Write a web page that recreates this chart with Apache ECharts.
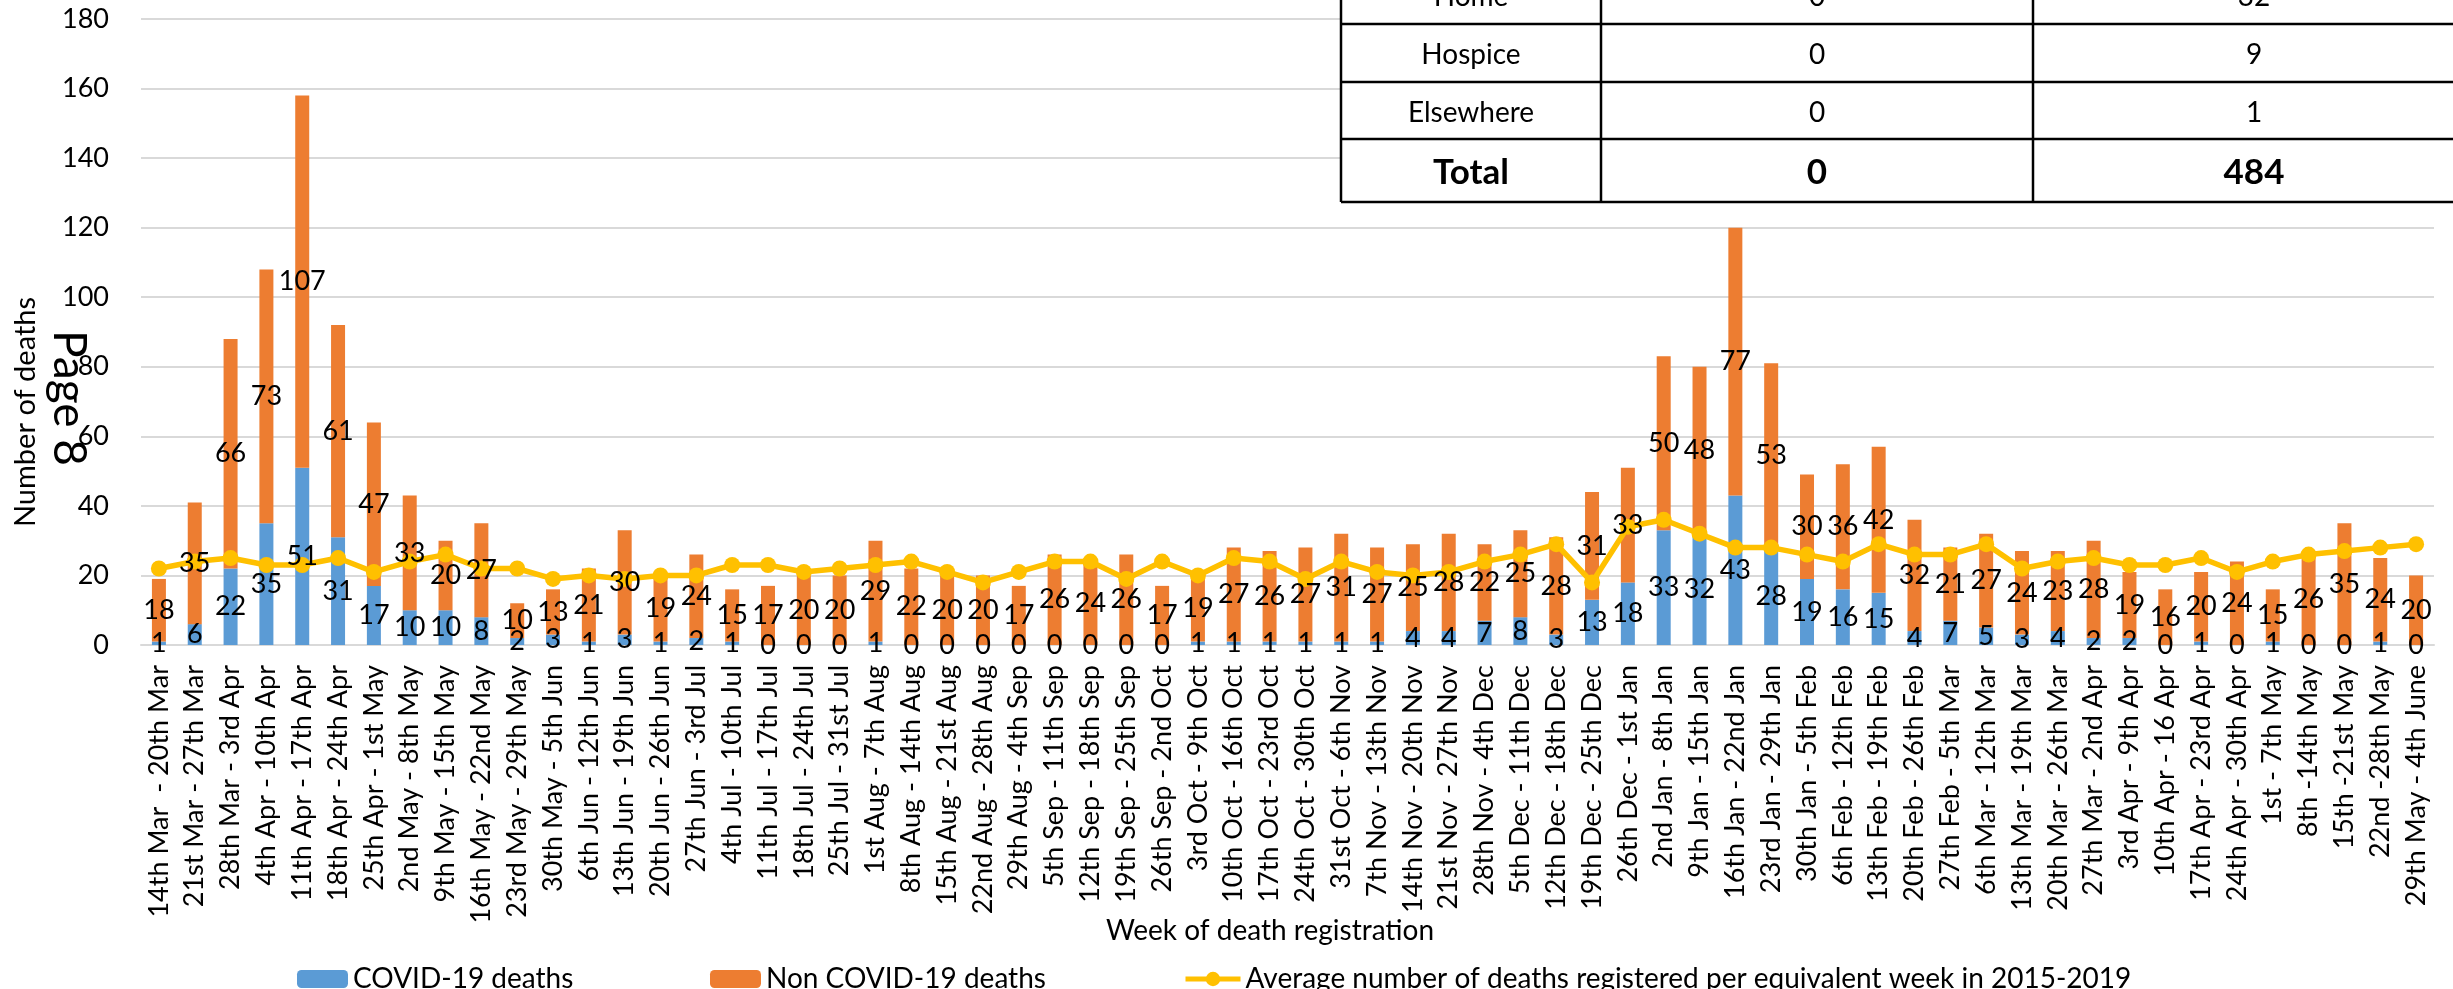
<!DOCTYPE html>
<html>
<head>
<meta charset="utf-8">
<script src="https://cdn.jsdelivr.net/npm/echarts@6/dist/echarts.min.js"></script>
<style>
html,body{margin:0;padding:0;background:#fff;}
#chart{width:2453px;height:989px;}
</style>
</head>
<body>
<div id="chart"></div>
<script>
const categories = [
  '14th Mar  - 20th Mar','21st Mar - 27th Mar','28th Mar - 3rd Apr','4th Apr - 10th Apr','11th Apr - 17th Apr',
  '18th Apr - 24th Apr','25th Apr - 1st May','2nd May - 8th May','9th May - 15th May','16th May - 22nd May',
  '23rd May - 29th May','30th May - 5th Jun','6th Jun - 12th Jun','13th Jun - 19th Jun','20th Jun - 26th Jun',
  '27th Jun - 3rd Jul','4th Jul - 10th Jul','11th Jul - 17th Jul','18th Jul - 24th Jul','25th Jul - 31st Jul',
  '1st Aug - 7th Aug','8th Aug - 14th Aug','15th Aug - 21st Aug','22nd Aug - 28th Aug','29th Aug - 4th Sep',
  '5th Sep - 11th Sep','12th Sep - 18th Sep','19th Sep - 25th Sep','26th Sep - 2nd Oct','3rd Oct - 9th Oct',
  '10th Oct - 16th Oct','17th Oct - 23rd Oct','24th Oct - 30th Oct','31st Oct - 6th Nov','7th Nov - 13th Nov',
  '14th Nov - 20th Nov','21st Nov - 27th Nov','28th Nov - 4th Dec','5th Dec - 11th Dec','12th Dec - 18th Dec',
  '19th Dec - 25th Dec','26th Dec - 1st Jan','2nd Jan - 8th Jan','9th Jan - 15th Jan','16th Jan - 22nd Jan',
  '23rd Jan - 29th Jan','30th Jan - 5th Feb','6th Feb - 12th Feb','13th Feb - 19th Feb','20th Feb - 26th Feb',
  '27th Feb - 5th Mar','6th Mar - 12th Mar','13th Mar - 19th Mar','20th Mar - 26th Mar','27th Mar - 2nd Apr',
  '3rd Apr - 9th Apr','10th Apr - 16 Apr','17th Apr - 23rd Apr','24th Apr - 30th Apr','1st - 7th May',
  '8th -14th May','15th -21st May','22nd -28th May','29th May - 4th June'
];
const covidDeaths = [
  1,6,22,35,51,31,17,10,10,8,
  2,3,1,3,1,2,1,0,0,0,
  1,0,0,0,0,0,0,0,0,1,
  1,1,1,1,1,4,4,7,8,3,
  13,18,33,32,43,28,19,16,15,4,
  7,5,3,4,2,2,0,1,0,1,
  0,0,1,0
];
const nonCovidDeaths = [
  18,35,66,73,107,61,47,33,20,27,
  10,13,21,30,19,24,15,17,20,20,
  29,22,20,20,17,26,24,26,17,19,
  27,26,27,31,27,25,28,22,25,28,
  31,33,50,48,77,53,30,36,42,32,
  21,27,24,23,28,19,16,20,24,15,
  26,35,24,20
];
const averageDeaths = [
  22,24,25,23,23,25,21,24,26,22,
  22,19,20,19,20,20,23,23,21,22,
  23,24,21,18,21,24,24,19,24,20,
  25,24,19,24,21,20,21,24,26,29,
  18,34,36,32,28,28,26,24,29,26,
  26,29,22,24,25,23,23,25,21,24,
  26,27,28,29
];
const seriesNames = ['COVID-19 deaths','Non COVID-19 deaths','Average number of deaths registered per equivalent week in 2015-2019'];
const tablePlaces = ['Home','Hospice','Elsewhere','Total'];
const tableCovid = [0,0,0,0];
const tableNonCovid = [32,9,1,484];

const FONT = 'Lato';
const chart = echarts.init(document.getElementById('chart'), null, {renderer:'canvas'});

// table graphic (layout only)
const colX = [1341, 1601, 2033, 2475];
const rowY = [-34, 24, 82, 139, 202];
const tableEls = [];
tableEls.push({type:'rect', shape:{x:colX[0], y:rowY[0], width:colX[3]-colX[0], height:rowY[4]-rowY[0]}, style:{fill:'#fff'}, z:100});
rowY.slice(1).forEach(y => tableEls.push({type:'line', shape:{x1:colX[0], y1:y, x2:colX[3], y2:y}, style:{stroke:'#000', lineWidth:2.5}, z:102}));
colX.slice(0,3).forEach(x => tableEls.push({type:'line', shape:{x1:x, y1:rowY[0], x2:x, y2:rowY[4]}, style:{stroke:'#000', lineWidth:2.5}, z:102}));
tablePlaces.forEach((p, i) => {
  const bold = p === 'Total';
  const cy = (rowY[i] + rowY[i+1]) / 2 + 2;
  const fs = bold ? 35 : 28;
  const vals = [p, String(tableCovid[i]), String(tableNonCovid[i])];
  vals.forEach((t, j) => {
    tableEls.push({type:'text', x:(colX[j]+colX[j+1])/2, y:cy, z:103,
      style:{text:t, fill:'#000', font:(bold?'bold ':'') + fs + 'px ' + FONT, textAlign:'center', textVerticalAlign:'middle'}});
  });
});

const labelStyle = {show:true, position:'inside', color:'#000', fontSize:27, fontFamily:FONT, textBorderWidth:0};
const legendText = {color:'#000', fontSize:28, fontFamily:FONT};

chart.setOption({
  animation:false,
  backgroundColor:'#fff',
  grid:{left:141, right:19, top:19, bottom:344, containLabel:false},
  legend:[
    {data:[seriesNames[0]], left:292, top:960, itemWidth:51, itemHeight:18, itemGap:0, textStyle:legendText},
    {data:[seriesNames[1]], left:705, top:960, itemWidth:51, itemHeight:18, itemGap:0, textStyle:legendText},
    {data:[seriesNames[2]], left:1178, top:960, itemWidth:55, itemHeight:18, itemGap:0, textStyle:legendText,
     lineStyle:{width:5}}
  ],
  xAxis:{
    type:'category', data:categories,
    axisLine:{show:true, lineStyle:{color:'#d9d9d9', width:2}},
    axisTick:{show:false},
    axisLabel:{interval:0, rotate:90, margin:20, color:'#000', fontSize:27, fontFamily:FONT},
    splitLine:{show:false}
  },
  yAxis:{
    type:'value', min:0, max:180, interval:20,
    axisLine:{show:false}, axisTick:{show:false},
    axisLabel:{margin:32, color:'#000', fontSize:27, fontFamily:FONT},
    splitLine:{lineStyle:{color:'#d9d9d9', width:2}}
  },
  series:[
    {name:seriesNames[0], type:'bar', stack:'total', data:covidDeaths, barWidth:14,
     itemStyle:{color:'#5B9BD5'}, z:2},
    {name:seriesNames[1], type:'bar', stack:'total', data:nonCovidDeaths, barWidth:14,
     itemStyle:{color:'#ED7D31'}, z:2},
    {name:seriesNames[2], type:'line', data:averageDeaths, symbol:'circle', symbolSize:16,
     lineStyle:{color:'#FFC000', width:5.5}, itemStyle:{color:'#FFC000'}, z:3},
    // transparent overlay bars carrying the data labels so they sit above the line
    {name:'covidLabels', type:'bar', stack:'labels', data:covidDeaths, barWidth:14,
     itemStyle:{color:'rgba(0,0,0,0)'}, label:labelStyle, z:5, silent:true},
    {name:'nonCovidLabels', type:'bar', stack:'labels', data:nonCovidDeaths, barWidth:14, barGap:'-100%',
     itemStyle:{color:'rgba(0,0,0,0)'}, label:labelStyle, z:5, silent:true}
  ],
  graphic:[
    {type:'text', x:26, y:412, rotation:Math.PI/2, z:50,
     style:{text:'Number of deaths', fill:'#000', font:'29px ' + FONT, textAlign:'center', textVerticalAlign:'middle'}},
    {type:'text', x:1270, y:931, z:50,
     style:{text:'Week of death registration', fill:'#000', font:'28px ' + FONT, textAlign:'center', textVerticalAlign:'middle'}},
    {type:'text', x:69, y:398, rotation:-Math.PI/2, z:60,
     style:{text:'Page 8', fill:'#000', font:'46px ' + FONT, textAlign:'center', textVerticalAlign:'middle'}},
    {type:'group', children:tableEls, z:100}
  ]
});
</script>
</body>
</html>
